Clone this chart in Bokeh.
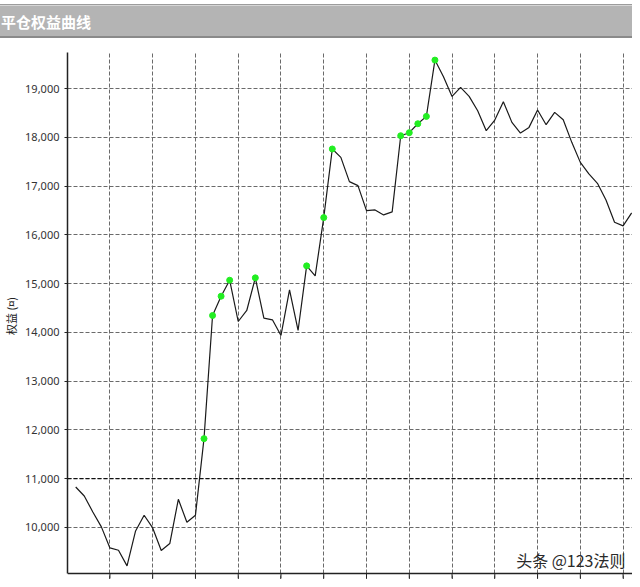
from bokeh.plotting import figure
from bokeh.models import (Range1d, FixedTicker, NumeralTickFormatter, Span, Label,
                          Grid, Div)
from bokeh.layouts import column
from bokeh.embed import file_html
from bokeh.resources import INLINE

# ---- data ----
title_text = "平仓权益曲线"
y_label = "权益 (¤)"
watermark = "头条 @123法则"

trade_no = list(range(1, 67))
equity = [10827, 10642, 10314, 10008, 9576, 9529, 9207, 9925, 10246, 9986,
          9523, 9666, 10574, 10103, 10246, 11819, 14346, 14742, 15070, 14223,
          14449, 15119, 14291, 14258, 13937, 14873, 14039, 15365, 15160, 16355,
          17764, 17592, 17094, 17011, 16499, 16513, 16411, 16472, 18036, 18098,
          18282, 18433, 19588, 19246, 18843, 19027, 18843, 18549, 18139, 18358,
          18734, 18310, 18091, 18207, 18563, 18262, 18515, 18364, 17900, 17489,
          17251, 17059, 16718, 16259, 16185, 16452]
new_high_trades = [16, 17, 18, 19, 22, 28, 30, 31, 39, 40, 41, 42, 43]
x_ticks = [5, 10, 15, 20, 25, 30, 35, 40, 45, 50, 55, 60, 65]
y_ticks = [10000, 11000, 12000, 13000, 14000, 15000, 16000, 17000, 18000, 19000]
baseline = 11000

hx = [t for t in new_high_trades]
hy = [equity[t - 1] for t in new_high_trades]

# ---- sizes ----
W = 632
TITLE_H = 38
MAIN_H = 541
FRAME_LEFT = 65
FRAME_TOP = 14
X_START, X_END = 0.04, 66.1
AXIS_BASE = 9051          # value where the bottom axis line sits
Y_TOP = 19744
BELOW_PX = 6              # pixels of frame kept below the bottom axis line
frame_h = MAIN_H - FRAME_TOP
y_bottom = AXIS_BASE - BELOW_PX * (Y_TOP - AXIS_BASE) / (frame_h - BELOW_PX)
tick_len = 5 * (Y_TOP - y_bottom) / frame_h

# ---- title bar ----
title_html = (
    '<div style="width:%dpx;height:%dpx;box-sizing:border-box;background:#ffffff;padding-top:4px;">'
    '<div style="height:34px;box-sizing:border-box;border-top:1px solid #9c9c9c;'
    'border-bottom:2px solid #8a8a8a;background:#b4b4b4;box-shadow:inset 0 1px 0 #d6d6d6;'
    'color:#ffffff;font-family:\'Noto Sans CJK SC\',sans-serif;font-size:15px;font-weight:bold;'
    'line-height:28px;padding-top:3px;padding-left:1px;white-space:nowrap;">%s</div></div>'
) % (W, TITLE_H, title_text)
tf = Div(text=title_html, width=W, height=TITLE_H, margin=(0, 0, 0, 0))

# ---- main chart ----
p = figure(width=W, height=MAIN_H, x_range=Range1d(X_START, X_END),
           y_range=Range1d(y_bottom, Y_TOP),
           toolbar_location=None, output_backend="svg",
           x_axis_location=None,
           min_border_left=FRAME_LEFT, min_border_right=0, min_border_top=FRAME_TOP,
           min_border_bottom=0,
           outline_line_color=None, background_fill_color="white")

p.yaxis.ticker = FixedTicker(ticks=y_ticks)
p.yaxis.bounds = (AXIS_BASE, Y_TOP)
p.yaxis.formatter = NumeralTickFormatter(format="0,0")
p.yaxis.major_label_text_font = "Noto Sans"
p.yaxis.major_label_text_font_size = "11px"
p.yaxis.major_label_text_color = "#333333"
p.yaxis.major_label_standoff = 5
p.yaxis.major_tick_out = 3
p.yaxis.major_tick_in = 0
p.yaxis.minor_tick_line_color = None
p.yaxis.axis_label = y_label
p.yaxis.axis_label_text_font = "Noto Sans CJK SC"
p.yaxis.axis_label_text_font_size = "11px"
p.yaxis.axis_label_text_font_style = "normal"
p.yaxis.axis_label_text_color = "#222222"
p.yaxis.axis_label_standoff = 3
p.yaxis.axis_line_color = "#222222"
p.yaxis.axis_line_width = 1.5
p.yaxis.major_tick_line_color = "#222222"

# replace default x grid with one on fixed ticks
p.center = [r for r in p.center if not (isinstance(r, Grid) and r.dimension == 0)]
p.add_layout(Grid(dimension=0, ticker=FixedTicker(ticks=x_ticks),
                  grid_line_color="#6a6a6a", grid_line_dash="4 2", grid_line_width=1))
p.ygrid.ticker = FixedTicker(ticks=y_ticks)
p.ygrid.grid_line_color = "#6a6a6a"
p.ygrid.grid_line_dash = "4 2"
p.ygrid.grid_line_width = 1

p.add_layout(Span(location=baseline, dimension="width", line_color="#111111",
                  line_width=1.3, line_dash="4 2"))

# bottom axis line and its tick marks
p.add_layout(Span(location=AXIS_BASE, dimension="width", line_color="#222222", line_width=1.5))
p.segment(x0=x_ticks, y0=[AXIS_BASE] * len(x_ticks), x1=x_ticks,
          y1=[AXIS_BASE - tick_len] * len(x_ticks), line_color="#222222", line_width=1)

p.line(trade_no, equity, line_color="#1a1a1a", line_width=1.2)
p.scatter(hx, hy, size=6, fill_color="#22ee22", line_color="#22ee22")

p.add_layout(Label(x=W - FRAME_LEFT - 9, y=8, x_units="screen", y_units="screen", text=watermark,
                   text_align="right", text_baseline="bottom",
                   text_font="Noto Sans CJK SC", text_font_size="16px",
                   text_color="#2a2a2a"))

layout = column(tf, p, spacing=0)
open("out.html", "w").write(file_html(layout, INLINE))
